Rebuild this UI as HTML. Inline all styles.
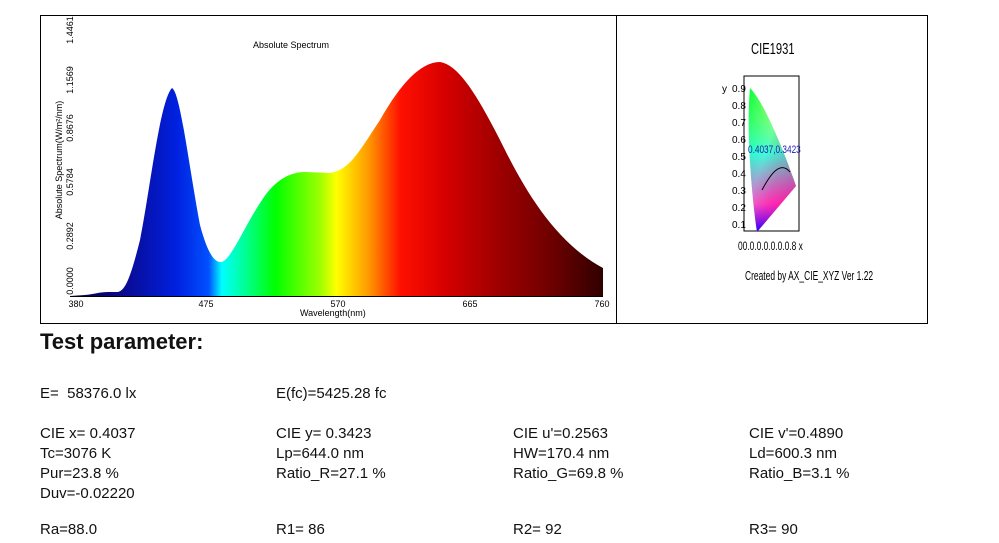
<!DOCTYPE html>
<html><head><meta charset="utf-8"><style>
body{margin:0;background:#fff;width:999px;height:543px;overflow:hidden;font-family:"Liberation Sans",Arial,sans-serif;position:relative}
.t{position:absolute;font-size:15px;color:#111;white-space:nowrap}
</style></head><body>
<svg width="999" height="330" style="position:absolute;left:0;top:0" font-family="Liberation Sans, Arial, sans-serif">
<defs>
<linearGradient id="g" x1="70" x2="603" y1="0" y2="0" gradientUnits="userSpaceOnUse">
<stop offset="0" stop-color="#000040"/>
<stop offset="0.1" stop-color="#0a0a90"/>
<stop offset="0.2" stop-color="#0020e0"/>
<stop offset="0.26" stop-color="#0050ff"/>
<stop offset="0.285" stop-color="#00ffff"/>
<stop offset="0.33" stop-color="#00ff90"/>
<stop offset="0.385" stop-color="#00ff00"/>
<stop offset="0.47" stop-color="#a0ff00"/>
<stop offset="0.5" stop-color="#ffff00"/>
<stop offset="0.56" stop-color="#ff9900"/>
<stop offset="0.62" stop-color="#ff1000"/>
<stop offset="0.7" stop-color="#d80000"/>
<stop offset="0.8" stop-color="#a00000"/>
<stop offset="0.9" stop-color="#700000"/>
<stop offset="1" stop-color="#300000"/>
</linearGradient>
<linearGradient id="c" x1="0" y1="0" x2="1" y2="1"><stop offset="0" stop-color="#00ff40"/><stop offset="0.4" stop-color="#c8ff80"/><stop offset="0.6" stop-color="#ff8040"/><stop offset="1" stop-color="#ff0000"/></linearGradient>
<linearGradient id="c2" x1="0" y1="0" x2="0" y2="1"><stop offset="0" stop-color="#20ff20" stop-opacity="0"/><stop offset="0.45" stop-color="#00ffff" stop-opacity=".7"/><stop offset="0.8" stop-color="#ff00ff" stop-opacity=".6"/><stop offset="1" stop-color="#2000ff"/></linearGradient>
</defs>
<rect x="40.5" y="15.5" width="887" height="308" fill="none" stroke="#000"/>
<line x1="616.5" y1="15" x2="616.5" y2="323" stroke="#000"/>
<path fill="url(#g)" d="M70,296 L85,295 C95,294 100,292 108,292 L118,292 C125,290 130,280 140,240 C150,190 160,100 172,88 C180,92 188,160 200,225 C208,255 215,263 222,262 C232,258 245,225 262,200 C275,180 290,172 305,172 L330,173 C350,170 360,150 380,120 C400,85 420,62 440,62 C460,65 480,100 505,150 C530,200 560,245 603,268 L603,296 Z"/>
<line x1="70" y1="296.5" x2="603" y2="296.5" stroke="#000"/>
<text x="253" y="48" font-size="9">Absolute Spectrum</text>
<text x="300" y="316" font-size="9">Wavelength(nm)</text>
<g font-size="9" text-anchor="middle">
<text x="76" y="307">380</text><text x="206" y="307">475</text><text x="338" y="307">570</text><text x="470" y="307">665</text><text x="602" y="307">760</text>
</g>
<g font-size="9" text-anchor="middle">
<text transform="translate(73,281) rotate(-90)">0.0000</text>
<text transform="translate(73,236) rotate(-90)">0.2892</text>
<text transform="translate(73,182) rotate(-90)">0.5784</text>
<text transform="translate(73,128) rotate(-90)">0.8676</text>
<text transform="translate(73,80) rotate(-90)">1.1569</text>
<text transform="translate(73,30) rotate(-90)">1.4461</text>
<text transform="translate(62,160) rotate(-90)">Absolute Spectrum(W/m²/nm)</text>
</g>
<text x="0" y="0" font-size="16" transform="translate(751,54) scale(0.7,1)">CIE1931</text>
<rect x="744" y="76" width="55" height="155" fill="none" stroke="#000"/>
<path d="M750,88 C762,100 780,140 796,186 L757,232 C752,200 746,130 750,88 Z" fill="url(#c)"/>
<path d="M750,88 C762,100 780,140 796,186 L757,232 C752,200 746,130 750,88 Z" fill="url(#c2)"/>
<path d="M762,190 C770,175 780,160 790,172" stroke="#000" fill="none"/>
<text x="0" y="0" font-size="11" fill="#2020b0" transform="translate(748,153) scale(0.75,1)">0.4037,0.3423</text>
<g font-size="10" transform="scale(1,1)"><text x="722" y="92">y</text>
<text x="732" y="92">0.9</text><text x="732" y="109">0.8</text><text x="732" y="126">0.7</text><text x="732" y="143">0.6</text><text x="732" y="160">0.5</text><text x="732" y="177">0.4</text><text x="732" y="194">0.3</text><text x="732" y="211">0.2</text><text x="732" y="228">0.1</text></g>
<text x="0" y="0" font-size="12" transform="translate(738,250) scale(0.7,1)">00.0.0.0.0.0.0.8 x</text>
<text x="0" y="0" font-size="13" transform="translate(745,280) scale(0.65,1)">Created by AX_CIE_XYZ Ver 1.22</text>
</svg>
<div class="t" style="left:40px;top:329px;font-size:22px;font-weight:bold">Test parameter:</div>
<div class="t" style="left:40px;top:385px">E=&nbsp; 58376.0 lx</div>
<div class="t" style="left:276px;top:385px">E(fc)=5425.28 fc</div>
<div class="t" style="left:40px;top:424px;line-height:20px">CIE x= 0.4037<br>Tc=3076 K<br>Pur=23.8 %<br>Duv=-0.02220</div>
<div class="t" style="left:276px;top:424px;line-height:20px">CIE y= 0.3423<br>Lp=644.0 nm<br>Ratio_R=27.1 %</div>
<div class="t" style="left:513px;top:424px;line-height:20px">CIE u'=0.2563<br>HW=170.4 nm<br>Ratio_G=69.8 %</div>
<div class="t" style="left:749px;top:424px;line-height:20px">CIE v'=0.4890<br>Ld=600.3 nm<br>Ratio_B=3.1 %</div>
<div class="t" style="left:40px;top:521px">Ra=88.0</div>
<div class="t" style="left:276px;top:521px">R1= 86</div>
<div class="t" style="left:513px;top:521px">R2= 92</div>
<div class="t" style="left:749px;top:521px">R3= 90</div>
</body></html>
